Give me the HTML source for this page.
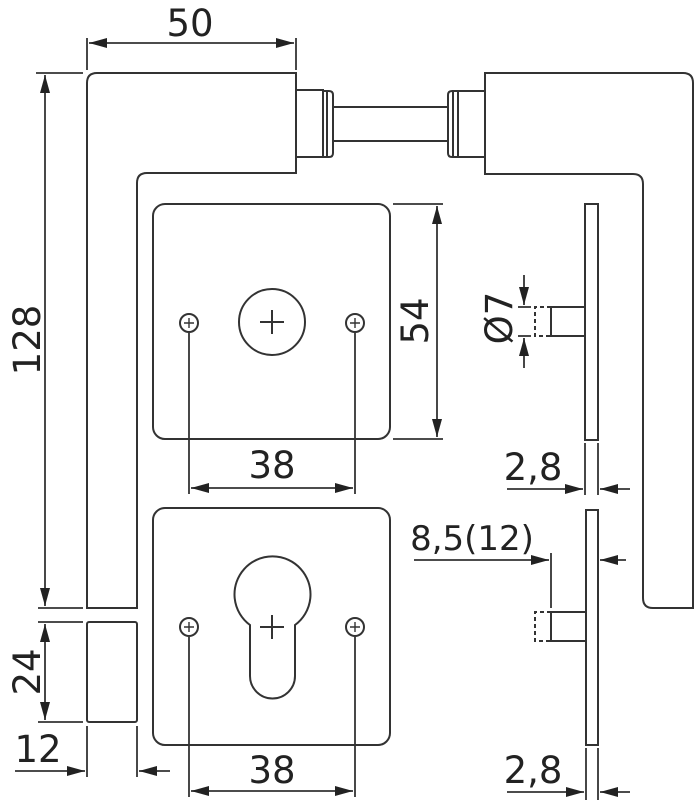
<!DOCTYPE html>
<html><head><meta charset="utf-8"><style>
html,body{margin:0;padding:0;background:#fff}
svg{display:block}
text{font-family:"DejaVu Sans","Liberation Sans",sans-serif;fill:#222}
</style></head><body>
<svg width="695" height="800" viewBox="0 0 695 800" xmlns="http://www.w3.org/2000/svg">
<defs>
<marker id="a" viewBox="0 0 18 10" refX="18" refY="5" markerWidth="18" markerHeight="10" markerUnits="userSpaceOnUse" orient="auto-start-reverse"><path d="M0,0 L18,5 L0,10 z" fill="#222"/></marker>
</defs>
<g fill="none" stroke="#333" stroke-width="2">
<path d="M87,608 V83 Q87,73 97,73 H296 V173 H147 Q137,173 137,183 V608 Z"/>
<rect x="87" y="622" width="50" height="100" rx="2"/>
<rect x="296" y="90" width="27" height="67"/>
<path d="M323,91 h6 q4,0 4,4 v58 q0,4 -4,4 h-6"/>
<line x1="327" y1="91" x2="327" y2="157"/>
<line x1="333" y1="107" x2="447" y2="107"/>
<line x1="333" y1="141" x2="447" y2="141"/>
<path d="M458,91 h-6 q-4,0 -4,4 v58 q0,4 4,4 h6"/>
<line x1="453" y1="91" x2="453" y2="157"/>
<rect x="458" y="91" width="27" height="66"/>
<path d="M485,157 V73 H683 Q693,73 693,83 V608 H653 Q643,608 643,598 V184 Q643,174 633,174 H485 Z"/>
<rect x="153" y="204" width="237" height="235" rx="12"/>
<circle cx="272" cy="322" r="33"/>
<path d="M260,322 h24 M272,310 v24"/>
<circle cx="189" cy="323" r="9" stroke-width="2"/>
<circle cx="355" cy="323" r="9" stroke-width="2"/>
<path d="M184,323 h10 M189,318 v10 M350,323 h10 M355,318 v10" stroke-width="1.4"/>
<rect x="153" y="508" width="237" height="237" rx="12"/>
<path d="M250,625 A38,38 0 1 1 295,625 V676 A22.5,22.5 0 0 1 250,676 Z"/>
<path d="M260,627 h24 M272,615 v24"/>
<circle cx="189" cy="627" r="9" stroke-width="2"/>
<circle cx="355" cy="627" r="9" stroke-width="2"/>
<path d="M184,627 h10 M189,622 v10 M350,627 h10 M355,622 v10" stroke-width="1.4"/>
<rect x="585" y="204" width="13" height="236"/>
<path d="M585,307 H551 V336 H585"/>
<path d="M551,307 H535 V336 H551" stroke-dasharray="4,3"/>
<rect x="586" y="510" width="12" height="235"/>
<path d="M586,612 H551 V641 H586"/>
<path d="M551,612 H535 V641 H551" stroke-dasharray="4,3"/>
</g>
<g fill="none" stroke="#333" stroke-width="1.8">
<line x1="87" y1="38" x2="87" y2="70"/><line x1="296" y1="38" x2="296" y2="70"/>
<line x1="89" y1="43" x2="294" y2="43" marker-start="url(#a)" marker-end="url(#a)"/>
<line x1="36" y1="73" x2="83" y2="73"/><line x1="38" y1="608" x2="83" y2="608"/>
<line x1="45" y1="75" x2="45" y2="606" marker-start="url(#a)" marker-end="url(#a)"/>
<line x1="38" y1="622" x2="83" y2="622"/><line x1="38" y1="722" x2="83" y2="722"/>
<line x1="45" y1="624" x2="45" y2="720" marker-start="url(#a)" marker-end="url(#a)"/>
<line x1="87" y1="726" x2="87" y2="777"/><line x1="137" y1="726" x2="137" y2="777"/>
<line x1="15" y1="771" x2="85" y2="771" marker-end="url(#a)"/>
<line x1="170" y1="771" x2="139" y2="771" marker-end="url(#a)"/>
<line x1="393" y1="204" x2="443" y2="204"/><line x1="393" y1="439" x2="443" y2="439"/>
<line x1="437" y1="206" x2="437" y2="437" marker-start="url(#a)" marker-end="url(#a)"/>
<line x1="189" y1="333" x2="189" y2="494"/><line x1="355" y1="333" x2="355" y2="494"/>
<line x1="191" y1="488" x2="353" y2="488" marker-start="url(#a)" marker-end="url(#a)"/>
<line x1="189" y1="637" x2="189" y2="797"/><line x1="355" y1="637" x2="355" y2="797"/>
<line x1="191" y1="791" x2="353" y2="791" marker-start="url(#a)" marker-end="url(#a)"/>
<line x1="518" y1="307" x2="531" y2="307"/><line x1="518" y1="336" x2="531" y2="336"/>
<line x1="524" y1="275" x2="524" y2="305" marker-end="url(#a)"/>
<line x1="524" y1="368" x2="524" y2="338" marker-end="url(#a)"/>
<line x1="585" y1="443" x2="585" y2="495"/><line x1="598" y1="443" x2="598" y2="495"/>
<line x1="507" y1="489" x2="583" y2="489" marker-end="url(#a)"/>
<line x1="630" y1="489" x2="600" y2="489" marker-end="url(#a)"/>
<line x1="551" y1="553" x2="551" y2="608"/>
<line x1="414" y1="560" x2="549" y2="560" marker-end="url(#a)"/>
<line x1="626" y1="560" x2="600" y2="560" marker-end="url(#a)"/>
<line x1="586" y1="748" x2="586" y2="800"/><line x1="598" y1="748" x2="598" y2="800"/>
<line x1="507" y1="792" x2="584" y2="792" marker-end="url(#a)"/>
<line x1="630" y1="792" x2="600" y2="792" marker-end="url(#a)"/>
</g>
<g font-size="37">
<text x="190" y="36" text-anchor="middle">50</text>
<text transform="translate(40,340) rotate(-90)" text-anchor="middle">128</text>
<text transform="translate(40,672) rotate(-90)" text-anchor="middle">24</text>
<text x="38" y="762" text-anchor="middle">12</text>
<text transform="translate(428,321) rotate(-90)" text-anchor="middle">54</text>
<text x="272" y="478" text-anchor="middle">38</text>
<text x="272" y="783" text-anchor="middle">38</text>
<text transform="translate(512,318) rotate(-90)" text-anchor="middle">Ø7</text>
<text x="533" y="480" text-anchor="middle">2,8</text>
<text x="533" y="783" text-anchor="middle">2,8</text>
<text x="472" y="550" text-anchor="middle" font-size="34">8,5(12)</text>
</g>
</svg>
</body></html>
